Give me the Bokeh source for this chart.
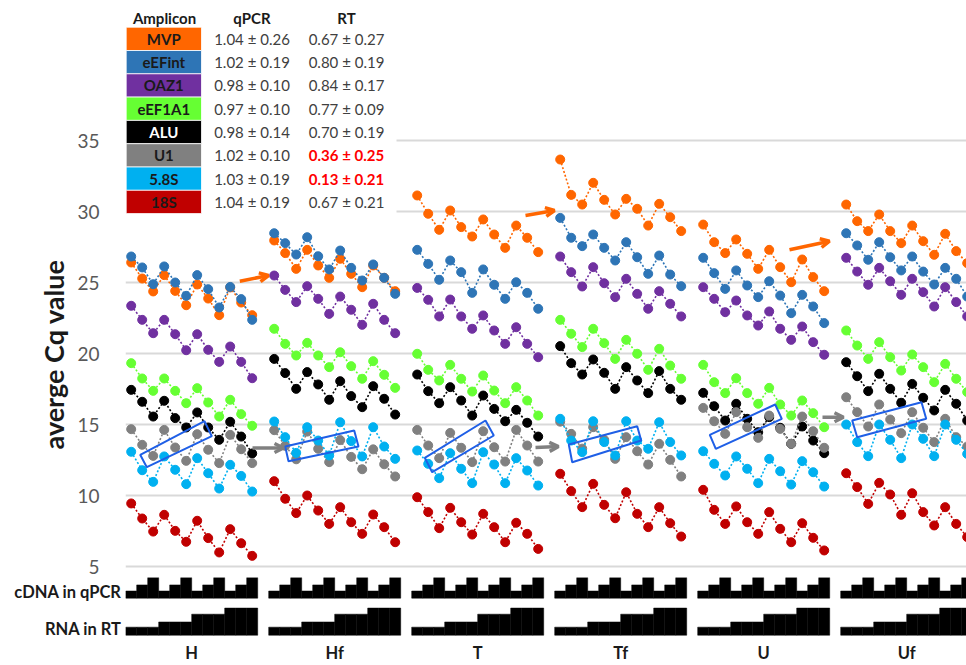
import math
from bokeh.plotting import figure
from bokeh.layouts import column
from bokeh.models import FixedTicker, Arrow, OpenHead, Title, Range1d
from bokeh.embed import file_html
from bokeh.resources import INLINE
from bokeh.core.properties import value

# ---------------- data ----------------
groups = ["H", "Hf", "T", "Tf", "U", "Uf"]
amplicons = ["MVP", "eEFint", "OAZ1", "eEF1A1", "ALU", "U1", "5.8S", "18S"]
colors = ["#ff6600", "#2e75b6", "#7030a0", "#66ff33", "#000000", "#808080", "#00b0f0", "#c00000"]
cell_text_colors = ["#1a1a1a", "#1a1a1a", "#1a1a1a", "#1a1a1a", "#ffffff", "#1a1a1a", "#1a1a1a", "#1a1a1a"]
qpcr_eff = ["1.04 ± 0.26", "1.02 ± 0.19", "0.98 ± 0.10", "0.97 ± 0.10",
            "0.98 ± 0.14", "1.02 ± 0.10", "1.03 ± 0.19", "1.04 ± 0.19"]
rt_eff = ["0.67 ± 0.27", "0.80 ± 0.19", "0.84 ± 0.17", "0.77 ± 0.09",
          "0.70 ± 0.19", "0.36 ± 0.25", "0.13 ± 0.21", "0.67 ± 0.21"]
rt_flag = [False, False, False, False, False, True, True, False]
y_ticks = [5, 10, 15, 20, 25, 30, 35]
strip_labels = ["cDNA in qPCR", "RNA in RT"]
cdna_level = [7.7, 14.3, 22.3]          # cDNA amount in qPCR (3 dilutions)
rna_level = [8.7, 14.3, 22.7, 29.3]     # RNA amount in RT (4 levels)

mvp = [26.41, 25.28, 24.37, 25.52, 24.41, 23.40, 24.86, 23.87, 22.70, 24.65, 23.59, 22.70,
       27.96, 27.07, 25.96, 27.30, 26.20, 25.33, 26.67, 25.61, 24.67, 26.20, 25.33, 24.39,
       31.13, 29.84, 28.71, 30.07, 28.90, 28.24, 29.44, 28.38, 27.44, 29.01, 28.15, 27.14,
       33.66, 31.17, 30.49, 32.02, 30.82, 29.79, 30.89, 30.19, 29.01, 30.54, 29.60, 28.62,
       29.08, 27.84, 27.07, 28.03, 27.02, 25.96, 27.30, 26.08, 25.02, 26.62, 25.38, 24.39,
       30.49, 29.32, 28.62, 29.79, 28.62, 27.77, 29.01, 27.91, 26.95, 28.43, 27.21, 26.36]
eefint = [26.83, 26.06, 24.88, 26.13, 25.00, 24.06, 25.52, 24.53, 23.24, 24.69, 23.83, 22.37,
          28.47, 27.77, 26.97, 28.19, 26.85, 25.92, 27.25, 26.03, 25.14, 26.27, 25.33, 24.20,
          27.30, 26.31, 25.19, 26.55, 25.73, 24.27, 25.92, 24.84, 23.85, 25.02, 24.27, 23.15,
          29.55, 28.15, 27.56, 28.38, 27.44, 26.55, 27.84, 26.78, 25.61, 26.90, 25.56, 24.74,
          26.74, 25.66, 24.55, 25.85, 24.79, 23.97, 25.09, 24.08, 22.84, 24.13, 23.31, 22.14,
          28.47, 27.61, 26.60, 27.84, 26.78, 25.85, 26.83, 25.77, 24.86, 26.03, 25.26, 24.01]
oaz1 = [23.36, 22.37, 21.43, 22.37, 21.36, 20.23, 21.36, 20.26, 19.41, 20.49, 19.41, 18.26,
        25.49, 24.48, 23.62, 24.74, 23.85, 22.79, 24.01, 23.08, 22.02, 23.50, 22.37, 21.43,
        24.62, 23.78, 22.61, 23.80, 22.61, 21.74, 22.68, 21.62, 20.68, 21.85, 20.68, 19.74,
        26.83, 25.73, 24.72, 26.08, 24.95, 23.97, 25.26, 24.20, 23.15, 24.39, 23.50, 22.61,
        24.67, 23.85, 22.91, 23.73, 22.68, 21.97, 22.96, 21.74, 20.96, 21.90, 20.80, 19.91,
        26.74, 25.77, 24.84, 26.03, 25.09, 24.13, 25.26, 24.32, 23.31, 24.67, 23.62, 22.61]
eef1a1 = [19.32, 18.24, 17.37, 18.24, 17.37, 16.50, 17.56, 16.55, 15.56, 16.74, 15.73, 14.91,
          21.74, 20.68, 19.86, 20.75, 19.86, 19.04, 20.09, 19.11, 18.22, 19.46, 18.50, 17.58,
          19.98, 18.85, 18.10, 19.20, 18.22, 17.32, 18.45, 17.39, 16.50, 17.63, 16.69, 15.63,
          22.37, 21.39, 20.45, 21.74, 20.73, 19.62, 20.96, 19.98, 18.85, 20.33, 19.15, 18.22,
          19.20, 17.98, 17.21, 18.26, 17.21, 16.46, 17.58, 16.41, 15.63, 16.69, 15.80, 14.81,
          21.62, 20.56, 19.62, 20.80, 19.74, 18.80, 19.93, 19.04, 17.98, 19.27, 18.22, 17.28]
alu = [17.44, 16.60, 15.56, 16.67, 15.45, 14.79, 15.85, 14.79, 13.92, 15.19, 14.15, 12.96,
       19.62, 18.62, 17.51, 18.69, 17.82, 16.74, 18.05, 17.00, 16.22, 17.70, 16.81, 15.70,
       18.52, 17.35, 16.50, 17.63, 16.69, 15.63, 17.04, 16.10, 15.23, 16.03, 15.12, 14.15,
       20.52, 19.32, 18.52, 19.58, 18.64, 17.51, 19.04, 18.10, 17.21, 18.76, 17.51, 16.74,
       17.23, 16.29, 15.28, 16.46, 15.40, 14.46, 15.52, 14.77, 13.64, 14.86, 13.87, 12.98,
       19.39, 18.40, 17.35, 18.57, 17.51, 16.53, 17.86, 16.88, 15.99, 17.44, 16.46, 15.28]
u1 = [14.67, 13.57, 12.79, 14.62, 13.38, 12.44, 14.32, 13.22, 12.28, 14.27, 13.26, 12.28,
      14.60, 13.50, 12.55, 14.50, 13.29, 12.35, 13.90, 12.72, 11.85, 13.25, 12.20, 11.34,
      14.62, 13.52, 12.63, 14.41, 13.36, 12.35, 14.53, 13.40, 12.39, 14.62, 13.52, 12.39,
      15.20, 14.34, 13.30, 14.81, 13.92, 12.58, 14.11, 13.12, 12.18, 13.64, 12.51, 11.34,
      16.17, 15.23, 14.34, 15.87, 14.81, 14.06, 15.63, 14.69, 13.64, 15.56, 14.53, 13.36,
      16.92, 15.87, 14.86, 16.41, 15.35, 14.39, 15.87, 14.77, 13.76, 15.40, 14.11, 13.45]
s58 = [13.08, 11.78, 10.96, 12.75, 11.81, 10.80, 12.63, 11.57, 10.49, 12.16, 11.38, 10.28,
       15.21, 14.11, 13.00, 14.81, 13.87, 12.82, 15.16, 13.83, 12.75, 14.81, 13.45, 12.58,
       13.17, 12.23, 11.22, 12.98, 11.88, 10.87, 13.05, 12.18, 10.87, 12.63, 11.76, 10.70,
       15.40, 13.87, 13.05, 15.23, 13.76, 12.82, 15.23, 13.87, 13.29, 15.16, 13.76, 12.82,
       13.12, 12.23, 11.41, 12.75, 11.88, 10.87, 12.58, 11.71, 10.77, 12.42, 11.64, 10.63,
       15.00, 13.76, 12.77, 15.00, 13.92, 12.63, 15.00, 13.99, 12.77, 15.00, 13.92, 12.93]
s18 = [9.44, 8.38, 7.46, 8.64, 7.51, 6.74, 8.22, 7.00, 5.99, 7.63, 6.64, 5.75,
       11.01, 9.77, 8.76, 10.00, 8.94, 8.00, 9.18, 8.12, 7.30, 8.66, 7.77, 6.71,
       9.88, 8.83, 7.70, 9.13, 8.12, 7.25, 8.71, 7.77, 6.71, 8.08, 7.30, 6.24,
       11.53, 10.31, 9.18, 10.82, 9.34, 8.40, 10.23, 8.71, 7.77, 9.18, 8.05, 7.11,
       10.40, 8.99, 8.00, 9.23, 8.12, 7.30, 8.83, 7.65, 6.71, 8.05, 7.02, 6.13,
       11.57, 10.59, 9.41, 10.89, 10.07, 8.64, 10.16, 8.83, 7.89, 9.18, 8.00, 7.07]
series = [mvp, eefint, oaz1, eef1a1, alu, u1, s58, s18]

# ---------------- layout helpers (page pixels -> data) ----------------
X0, SX = 130.7, 11.0
Y30, SY = 211.0, 14.2
def px2x(px):
    return (px - X0) / SX
def py2y(py):
    return 30 - (py - Y30) / SY

FONT = value("Lato")
PER = 12
GAP = 13
TOP_H = 577
LEFT = 125
W = 966

xr = Range1d(px2x(LEFT), px2x(W))

p = figure(width=W, height=TOP_H, x_range=xr, y_range=(py2y(TOP_H), py2y(0)),
           output_backend="svg", toolbar_location=None,
           min_border_left=LEFT, min_border_right=0, min_border_top=0, min_border_bottom=0)
p.outline_line_color = None
p.xaxis.visible = False
p.xgrid.visible = False
p.ygrid.ticker = FixedTicker(ticks=y_ticks)
p.ygrid.grid_line_color = "#d9d9d9"
p.ygrid.grid_line_width = 2
p.yaxis.ticker = FixedTicker(ticks=y_ticks)
p.yaxis.axis_line_color = None
p.yaxis.major_tick_line_color = None
p.yaxis.minor_tick_line_color = None
p.yaxis.major_tick_out = 0
p.yaxis.major_tick_in = 0
p.yaxis.major_label_standoff = 26
p.yaxis.major_label_text_font = "Lato"
p.yaxis.major_label_text_font_size = "19px"
p.yaxis.major_label_text_color = "#595959"
p.add_layout(Title(text="averge Cq value", align="left", offset=128,
                   text_font="Lato", text_font_size="27px", text_font_style="bold",
                   text_color="#1a1a1a"), "left")

xs = [g * GAP + i for g in range(len(groups)) for i in range(PER)]

# white backing of the efficiency table
p.quad(left=[px2x(118)], right=[px2x(396)], bottom=[py2y(216)], top=[py2y(-5)],
       fill_color="white", line_color=None)

nan = float("nan")
for vals, col in zip(series, colors):
    lx, ly = [], []
    for g in range(len(groups)):
        lx += xs[g * PER:(g + 1) * PER] + [nan]
        ly += vals[g * PER:(g + 1) * PER] + [nan]
    p.line(lx, ly, line_color=col, line_width=1.6, line_dash="2 2")
    p.scatter(xs, vals, size=9, fill_color=col, line_color=col)

boxes_px = [
    [(139.7, 454.3), (146.3, 466.7), (211.3, 435.7), (204.0, 420.7)],
    [(284.7, 446.0), (288.0, 460.7), (358.0, 446.0), (353.7, 430.0)],
    [(424.3, 457.3), (431.7, 471.7), (493.3, 435.0), (485.0, 420.0)],
    [(568.3, 444.0), (571.7, 461.7), (640.7, 440.0), (636.7, 425.7)],
    [(709.3, 434.3), (715.3, 448.3), (781.3, 418.3), (774.7, 404.0)],
    [(851.7, 420.0), (856.7, 436.7), (925.7, 418.3), (921.0, 401.7)],
]
p.patches(xs=[[px2x(a) for a, b in bx] for bx in boxes_px],
          ys=[[py2y(b) for a, b in bx] for bx in boxes_px],
          fill_color=None, line_color="#1f5fe6", line_width=2)

arrows_px = [
    ((239.3, 280.7), (268.0, 275.0), "#ff6600"),
    ((525.0, 215.0), (554.0, 210.0), "#ff6600"),
    ((789.0, 249.3), (829.0, 240.7), "#ff6600"),
    ((252.0, 447.5), (283.0, 447.5), "#808080"),
    ((535.0, 447.0), (558.0, 446.0), "#808080"),
    ((822.0, 416.7), (843.0, 416.7), "#808080"),
]
for (sx_, sy_), (ex_, ey_), col in arrows_px:
    p.add_layout(Arrow(end=OpenHead(line_color=col, line_width=3.5, size=9),
                       x_start=px2x(sx_), y_start=py2y(sy_), x_end=px2x(ex_), y_end=py2y(ey_),
                       line_color=col, line_width=3.5))

# efficiency table
row_h = 23.3
top0 = 26.7
n = len(amplicons)
p.quad(left=[px2x(125.7)] * n, right=[px2x(201)] * n,
       top=[py2y(top0 + r * row_h) for r in range(n)],
       bottom=[py2y(top0 + (r + 1) * row_h) for r in range(n)],
       fill_color=colors, line_color="white", line_width=0.8)
row_y = [py2y(top0 + (r + 0.5) * row_h) for r in range(n)]
for r in range(n):
    p.text(x=[px2x(163.3)], y=[row_y[r]], text=[amplicons[r]], text_color=cell_text_colors[r],
           text_align="center", text_baseline="middle",
           text_font=FONT, text_font_style="bold", text_font_size=value("15px"))
    p.text(x=[px2x(251.5)], y=[row_y[r]], text=[qpcr_eff[r]], text_color="#404040",
           text_align="center", text_baseline="middle",
           text_font=FONT, text_font_size=value("15px"))
    p.text(x=[px2x(346)], y=[row_y[r]], text=[rt_eff[r]],
           text_color="#ff0000" if rt_flag[r] else "#404040",
           text_font_style="bold" if rt_flag[r] else "normal",
           text_align="center", text_baseline="middle",
           text_font=FONT, text_font_size=value("15px"))
p.text(x=[px2x(164), px2x(251.5), px2x(346)], y=[py2y(17)] * 3, text=["Amplicon", "qPCR", "RT"],
       text_align="center", text_baseline="middle", text_color="#1a1a1a",
       text_font=FONT, text_font_style="bold", text_font_size=value("15px"))

# ---------------- design strips ----------------
STRIP_H = 68
b = figure(width=W, height=665 - TOP_H, x_range=xr, y_range=(0, STRIP_H),
           output_backend="svg", toolbar_location=None,
           min_border_left=LEFT, min_border_right=0, min_border_top=0, min_border_bottom=20)
b.outline_line_color = None
b.grid.visible = False
cd_base = 45.7
rna_base = 5.7
b.quad(left=[x - 0.5 for x in xs], right=[x + 0.5 for x in xs],
       bottom=[cd_base] * len(xs),
       top=[cd_base + cdna_level[i % 3] for g in range(len(groups)) for i in range(PER)],
       fill_color="black", line_color="black", line_width=0.5)
b.quad(left=[x - 0.5 for x in xs], right=[x + 0.5 for x in xs],
       bottom=[rna_base] * len(xs),
       top=[rna_base + rna_level[i // 3] for g in range(len(groups)) for i in range(PER)],
       fill_color="black", line_color="black", line_width=0.5)

centers = [g * GAP + (PER - 1) / 2 for g in range(len(groups))]
b.xaxis.ticker = FixedTicker(ticks=centers)
b.xaxis.major_label_overrides = {c: gname for c, gname in zip(centers, groups)}
b.yaxis.ticker = FixedTicker(ticks=[52, 12])
b.yaxis.major_label_overrides = {52: strip_labels[0], 12: strip_labels[1]}
for ax in (b.xaxis, b.yaxis):
    ax.axis_line_color = None
    ax.major_tick_line_color = None
    ax.minor_tick_line_color = None
    ax.major_tick_out = 0
    ax.major_tick_in = 0
    ax.major_label_text_font = "Lato"
    ax.major_label_text_font_style = "bold"
    ax.major_label_text_font_size = "16.5px"
    ax.major_label_text_color = "#1a1a1a"
b.xaxis.major_label_standoff = 2
b.yaxis.major_label_standoff = 4

open("out.html", "w").write(file_html(column(p, b, spacing=0), INLINE))
